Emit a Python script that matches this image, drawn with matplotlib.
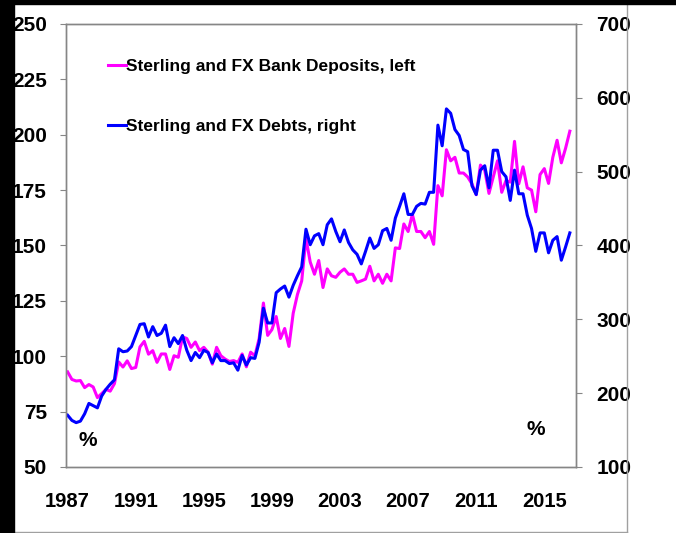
import numpy as np
import matplotlib
matplotlib.use("Agg")
import matplotlib.pyplot as plt
from matplotlib.patches import Rectangle
from matplotlib.lines import Line2D

# quarterly, 1987Q1 .. 2016Q3
start_year = 1987
deposits = [
    92.9, 89.5, 88.8, 89.0,
    85.8, 87.2, 86.1, 81.3,
    83.1, 85.0, 84.2, 87.6,
    97.4, 95.1, 97.9, 94.4,
    94.9, 104.2, 106.7, 100.9,
    102.5, 97.2, 101.0, 101.0,
    94.0, 100.2, 99.5, 108.7,
    108.0, 104.0, 106.4, 102.5,
    104.0, 101.8, 96.4, 104.0,
    100.2, 98.7, 97.6, 98.0,
    97.2, 101.0, 95.2, 101.8,
    100.2, 108.0, 124.0, 109.4,
    112.0, 117.9, 108.0, 112.5,
    104.4, 119.4, 127.9, 134.0,
    153.2, 142.5, 137.0, 143.2,
    131.0, 139.4, 136.3, 135.6,
    137.9, 139.4, 137.0, 137.0,
    133.3, 134.0, 134.8, 140.6,
    134.0, 137.0, 132.9, 137.0,
    134.0, 148.9, 148.6, 159.7,
    156.3, 164.0, 156.3, 156.3,
    153.5, 156.3, 150.5, 177.0,
    172.4, 193.2, 188.2, 189.8,
    182.7, 182.7, 180.9, 177.8,
    172.9, 186.3, 184.0, 173.5,
    180.9, 188.2, 174.0, 179.3,
    178.6, 197.0, 177.8, 185.5,
    176.0, 175.0, 165.2, 182.0,
    184.7, 178.0, 189.8, 197.5,
    187.3, 193.9, 201.6,
]
debts = [
    170, 163, 160, 162,
    172, 186, 183, 180,
    196, 205, 212, 218,
    260, 256, 257, 263,
    278, 293, 294, 276,
    290, 278, 281, 292,
    263, 275, 267, 278,
    258, 244, 255, 248,
    258, 255, 241, 253,
    244, 244, 240, 241,
    231, 251, 238, 248,
    247, 269, 315, 295,
    295, 336, 341, 345,
    330, 346, 359, 371,
    422, 401, 413, 416,
    401, 428, 436, 419,
    405, 421, 404, 394,
    388, 375, 392, 410,
    396, 401, 420, 423,
    407, 437, 453, 470,
    442, 442, 453, 457,
    456, 472, 472, 563,
    535, 585, 579, 557,
    549, 530, 527, 481,
    469, 502, 508, 478,
    529, 529, 500, 493,
    461, 502, 470, 470,
    441, 423, 392, 417,
    417, 390, 407, 412,
    380, 398, 417,
]
year_ticks = [1987, 1991, 1995, 1999, 2003, 2007, 2011, 2015]
left_ticks = [50, 75, 100, 125, 150, 175, 200, 225, 250]
right_ticks = [100, 200, 300, 400, 500, 600, 700]

t = start_year + np.arange(len(deposits)) / 4.0

plt.rcParams['font.family'] = ['Liberation Sans', 'DejaVu Sans']
plt.rcParams['font.weight'] = 'bold'

fig = plt.figure(figsize=(6.76, 5.33), dpi=100)
ax = fig.add_axes([0.0969, 0.124, 0.7555, 0.831])
ax2 = ax.twinx()

pink = '#ff00ff'
blue = '#0000ff'
grey = '#868686'

l1, = ax.plot(t, deposits, color=pink, lw=2.2, label='Sterling and FX Bank Deposits, left')
l2, = ax2.plot(t, debts, color=blue, lw=2.2, label='Sterling and FX Debts, right')

ax.set_xlim(1986.875, 2016.875)
ax.set_ylim(50, 250)
ax2.set_ylim(100, 700)
ax.set_xticks(year_ticks)
ax.set_yticks(left_ticks)
ax2.set_yticks(right_ticks)

ax.tick_params(axis='x', length=0, pad=18, labelsize=14.5)
ax.tick_params(axis='y', length=4.5, color=grey, pad=9, labelsize=15)
ax2.tick_params(axis='y', length=4.5, color=grey, pad=10, labelsize=15)

for a in (ax, ax2):
    for s in a.spines.values():
        s.set_color(grey)
        s.set_linewidth(1.0)

leg = ax.legend(handles=[l1, l2], loc='upper left', bbox_to_anchor=(0.07, 0.937),
                frameon=False, fontsize=12.5, handlelength=1.05, handletextpad=0.0,
                labelspacing=2.6, borderaxespad=0)

ax.text(0.043, 0.06, '%', transform=ax.transAxes, fontsize=15, ha='center', va='center')
ax.text(0.92, 0.085, '%', transform=ax.transAxes, fontsize=15, ha='center', va='center')

# outer frame of the pasted chart
W, H = 676.0, 533.0
fig.add_artist(Rectangle((0, 0), 14 / W, 1, transform=fig.transFigure, color='black', zorder=10))
fig.add_artist(Rectangle((0, 1 - 3.5 / H), 1, 3.5 / H, transform=fig.transFigure, color='black', zorder=10))
fig.add_artist(Line2D([627 / W, 627 / W], [0, 1], transform=fig.transFigure, color='#a0a0a0', lw=1))
fig.add_artist(Line2D([14 / W, 627 / W], [1.5 / H, 1.5 / H], transform=fig.transFigure, color='#a0a0a0', lw=1))

fig.savefig('out.png', dpi=100)
